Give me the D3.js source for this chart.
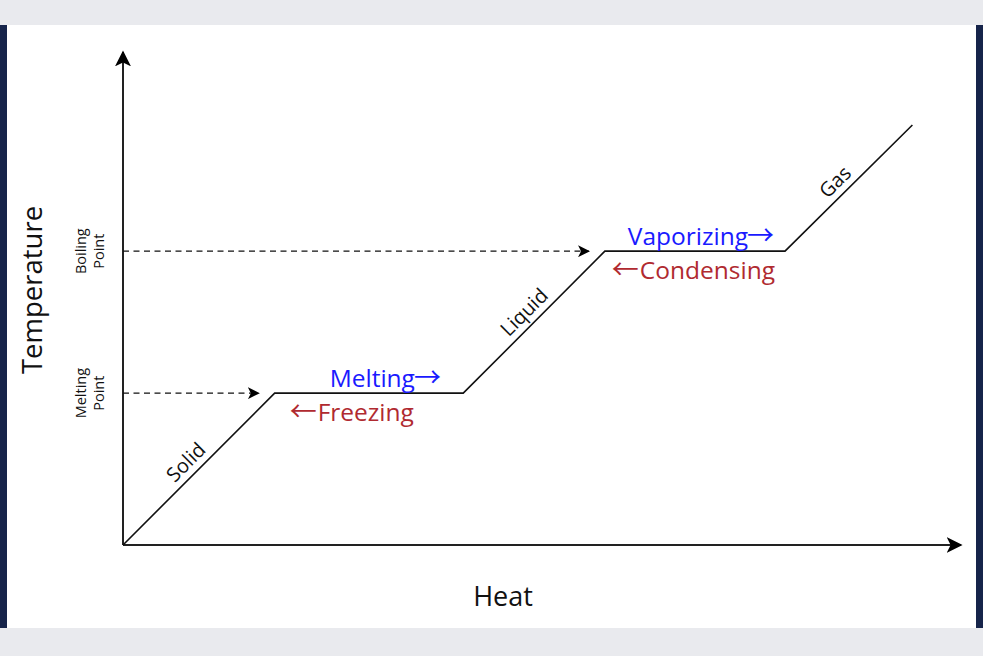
<!DOCTYPE html>
<html><head><meta charset="utf-8">
<script src="https://cdn.jsdelivr.net/npm/d3@7"></script>
<style>
html,body{margin:0;padding:0;background:#e9eaee;}
svg{display:block;}
</style></head>
<body>
<svg id="chart" width="983" height="656"></svg>
<script>
// Data: heating curve (heat in arbitrary units, temperature in arbitrary units)
const heat = [0, 18.1, 40.6, 57.5, 79.0, 94.2];
const temperature = [0, 30.8, 30.8, 59.6, 59.6, 85.2];
const phaseLabels = ["Solid", "Liquid", "Gas"];
const phaseSegments = [0, 2, 4];          // segment index where each phase label sits
const transitionForward = ["Melting", "Vaporizing"];
const transitionBackward = ["Freezing", "Condensing"];
const pointNames = [["Melting", "Point"], ["Boiling", "Point"]];
const pointTemps = [30.8, 59.6];
const axisTitles = {x: "Heat", y: "Temperature"};

const svg = d3.select("#chart");
const font = "'Open Sans', 'Noto Sans', sans-serif";
const arrowFont = "'Noto Sans CJK SC', 'DejaVu Sans', sans-serif";

// page frame
svg.append("rect").attr("x",0).attr("y",0).attr("width",983).attr("height",656).attr("fill","#e9eaee");
svg.append("rect").attr("x",0).attr("y",25).attr("width",983).attr("height",603).attr("fill","#ffffff");
svg.append("rect").attr("x",0).attr("y",25).attr("width",7).attr("height",603).attr("fill","#16244a");
svg.append("rect").attr("x",976).attr("y",25).attr("width",7).attr("height",603).attr("fill","#16244a");

const x = d3.scaleLinear().domain([0,100]).range([123,961]);
const y = d3.scaleLinear().domain([0,100]).range([545,52]);

const defs = svg.append("defs");
defs.append("marker").attr("id","bigArrow").attr("viewBox","0 0 10 10")
  .attr("refX",9).attr("refY",5).attr("markerWidth",8).attr("markerHeight",8)
  .attr("markerUnits","strokeWidth").attr("orient","auto")
  .append("path").attr("d","M0,0 L10,5 L0,10 L2.5,5 Z").attr("fill","#000");
defs.append("marker").attr("id","smallArrow").attr("viewBox","0 0 10 10")
  .attr("refX",9).attr("refY",5).attr("markerWidth",12).attr("markerHeight",12)
  .attr("markerUnits","userSpaceOnUse").attr("orient","auto")
  .append("path").attr("d","M0,0 L10,5 L0,10 L2.5,5 Z").attr("fill","#000");

// axes
svg.append("line").attr("x1",x(0)).attr("y1",y(0)).attr("x2",x(0)).attr("y2",y(100))
  .attr("stroke","#222").attr("stroke-width",2).attr("marker-end","url(#bigArrow)");
svg.append("line").attr("x1",x(0)).attr("y1",y(0)).attr("x2",x(100)).attr("y2",y(0))
  .attr("stroke","#222").attr("stroke-width",2).attr("marker-end","url(#bigArrow)");

// dashed guide lines to the plateaus
pointTemps.forEach((t,i)=>{
  const endHeat = heat[1+2*i];
  svg.append("line").attr("x1",x(0)).attr("y1",y(t)).attr("x2",x(endHeat)-16).attr("y2",y(t))
    .attr("stroke","#111").attr("stroke-width",1.3).attr("stroke-dasharray","6,4.5")
    .attr("marker-end","url(#smallArrow)");
});

// heating curve
const pts = heat.map((h,i)=>[x(h), y(temperature[i])]);
svg.append("path").attr("d", d3.line()(pts)).attr("fill","none")
  .attr("stroke","#111").attr("stroke-width",1.6);

// phase labels along slopes
const phasePos = [0.48, 0.5, 0.47];
phaseLabels.forEach((lab,i)=>{
  const s = phaseSegments[i];
  const [x0,y0] = pts[s], [x1,y1] = pts[s+1];
  const ang = Math.atan2(y1-y0, x1-x0)*180/Math.PI;
  const t = phasePos[i];
  const px = x0 + (x1-x0)*t, py = y0 + (y1-y0)*t;
  const off = 7;
  const nx = Math.sin(ang*Math.PI/180)*off, ny = -Math.cos(ang*Math.PI/180)*off;
  svg.append("text").attr("transform",`translate(${px+nx},${py+ny}) rotate(${ang})`)
    .attr("text-anchor","middle").attr("font-family",font).attr("font-size",20)
    .attr("fill","#111").text(lab);
});

// transition labels on plateaus
const fwdStartOffset = [55, 23];
const bwdStartOffset = [15, 7];
[0,1].forEach(i=>{
  const xa = x(heat[1+2*i]);
  const yy = y(pointTemps[i]);
  const f = svg.append("text").attr("x",xa+fwdStartOffset[i]).attr("y",yy-6).attr("text-anchor","start")
    .attr("font-family",font).attr("font-size",24.5).attr("fill","#1a1aff");
  f.append("tspan").text(transitionForward[i]);
  f.append("tspan").attr("font-family",arrowFont).attr("font-size",27).attr("dx",-1).text("\u2192");
  const b = svg.append("text").attr("x",xa+bwdStartOffset[i]).attr("y",yy+28).attr("text-anchor","start")
    .attr("font-family",font).attr("font-size",24.5).attr("fill","#b02a30");
  b.append("tspan").attr("font-family",arrowFont).attr("font-size",27).text("\u2190");
  b.append("tspan").attr("dx",1).text(transitionBackward[i]);
});

// point names on the y axis
pointNames.forEach((lines,i)=>{
  const yy = y(pointTemps[i]);
  const g = svg.append("text").attr("transform",`translate(86,${yy}) rotate(-90)`)
    .attr("text-anchor","middle").attr("font-family",font).attr("font-size",14.5).attr("fill","#111");
  lines.forEach((l,j)=> g.append("tspan").attr("x",0).attr("dy", j===0? 0 : 18).text(l));
});

// axis titles
svg.append("text").attr("x",503).attr("y",606).attr("text-anchor","middle")
  .attr("font-family",font).attr("font-size",27).attr("fill","#111").text(axisTitles.x);
svg.append("text").attr("transform","translate(42,290) rotate(-90)").attr("text-anchor","middle")
  .attr("font-family",font).attr("font-size",27.5).attr("fill","#111").text(axisTitles.y);
</script>
</body></html>
